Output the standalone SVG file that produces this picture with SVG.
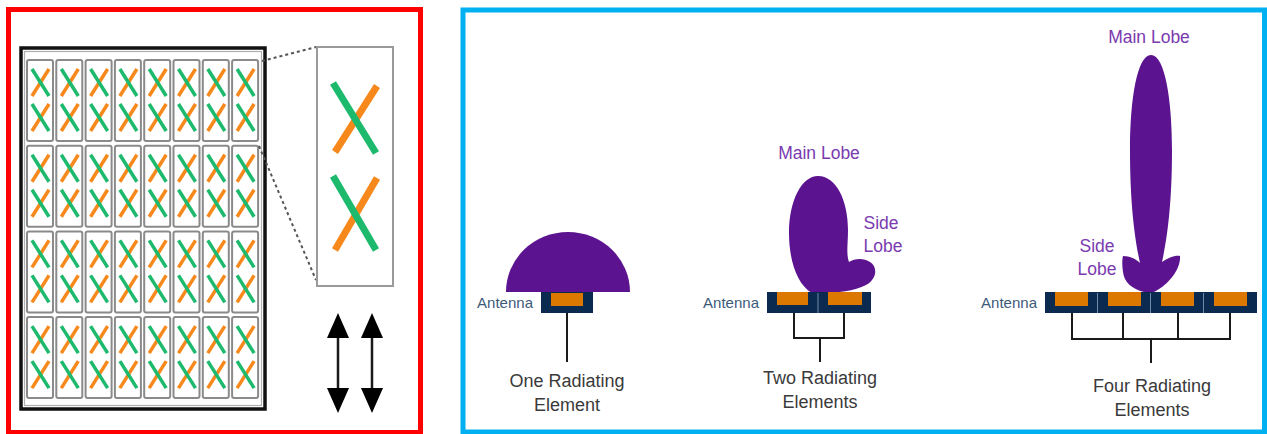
<svg xmlns="http://www.w3.org/2000/svg" xmlns:xlink="http://www.w3.org/1999/xlink" width="1267" height="434" viewBox="0 0 1267 434">
  <style>
    .frame-red { fill: none; stroke: #ff0000; stroke-width: 5; }
    .frame-blue { fill: none; stroke: #00b0f0; stroke-width: 5; }
    .tile { fill: #ffffff; stroke: #8a8a8a; stroke-width: 2; }
    .grn { stroke: #1dba6e; stroke-width: 3.5; }
    .org { stroke: #f7891c; stroke-width: 3.5; }
    .grn-big { stroke: #1dba6e; stroke-width: 7; }
    .org-big { stroke: #f7891c; stroke-width: 7; }
    .dots { stroke: #555555; stroke-width: 2; stroke-dasharray: 3 3; fill: none; }
    .shaft { stroke: #1a1a1a; stroke-width: 2.5; }
    .tip { fill: #000000; }
    .lobe { fill: #5c1390; }
    .base { fill: #0b2a4f; }
    .patch { fill: #dc7800; }
    .seam { stroke: #6f8aa6; stroke-width: 1; }
    .feed { fill: none; stroke: #1a1a1a; stroke-width: 2; }
    .lbl { font-family: "Liberation Sans", Arial, sans-serif; font-size: 18px; fill: #3a3a3a; text-anchor: middle; }
    .ant { font-family: "Liberation Sans", Arial, sans-serif; font-size: 15px; fill: #3d5a7a; text-anchor: end; }
    .lobe-lbl { font-family: "Liberation Sans", Arial, sans-serif; font-size: 17.5px; fill: #7a3ab0; text-anchor: middle; }
  </style>
  <defs>
    <!-- one dual-polarised element: card with two crossed dipoles -->
    <g id="tile">
      <rect class="tile" x="0" y="0" width="26" height="81" rx="2"/>
      <line class="org" x1="22" y1="9" x2="5" y2="36"/>
      <line class="grn" x1="5" y1="9" x2="22" y2="36"/>
      <line class="org" x1="22" y1="44" x2="5" y2="71"/>
      <line class="grn" x1="5" y1="44" x2="22" y2="71"/>
    </g>
    <!-- double-headed vertical arrow centred on x=0 -->
    <g id="dbl-arrow">
      <line class="shaft" x1="0" y1="335" x2="0" y2="391"/>
      <path class="tip" d="M0,313 L11,338 L-11,338 Z"/>
      <path class="tip" d="M0,413 L11,388 L-11,388 Z"/>
    </g>
  </defs>

  <rect width="1267" height="434" fill="#ffffff"/>

  <!-- left panel: antenna array -->
  <g id="array-panel">
    <rect class="frame-red" x="8.5" y="9.5" width="412" height="423"/>
    <g id="array">
      <rect x="21" y="48" width="244" height="361" fill="#ffffff" stroke="#111111" stroke-width="3.5"/>
      <rect x="24.5" y="51.5" width="237" height="354" fill="none" stroke="#b0b0b0" stroke-width="1.2"/>
      <use xlink:href="#tile" x="27" y="60"/><use xlink:href="#tile" x="56.3" y="60"/><use xlink:href="#tile" x="85.6" y="60"/><use xlink:href="#tile" x="114.9" y="60"/>
      <use xlink:href="#tile" x="144.2" y="60"/><use xlink:href="#tile" x="173.5" y="60"/><use xlink:href="#tile" x="202.8" y="60"/><use xlink:href="#tile" x="232.1" y="60"/>
      <use xlink:href="#tile" x="27" y="145.7"/><use xlink:href="#tile" x="56.3" y="145.7"/><use xlink:href="#tile" x="85.6" y="145.7"/><use xlink:href="#tile" x="114.9" y="145.7"/>
      <use xlink:href="#tile" x="144.2" y="145.7"/><use xlink:href="#tile" x="173.5" y="145.7"/><use xlink:href="#tile" x="202.8" y="145.7"/><use xlink:href="#tile" x="232.1" y="145.7"/>
      <use xlink:href="#tile" x="27" y="231.4"/><use xlink:href="#tile" x="56.3" y="231.4"/><use xlink:href="#tile" x="85.6" y="231.4"/><use xlink:href="#tile" x="114.9" y="231.4"/>
      <use xlink:href="#tile" x="144.2" y="231.4"/><use xlink:href="#tile" x="173.5" y="231.4"/><use xlink:href="#tile" x="202.8" y="231.4"/><use xlink:href="#tile" x="232.1" y="231.4"/>
      <use xlink:href="#tile" x="27" y="317.1"/><use xlink:href="#tile" x="56.3" y="317.1"/><use xlink:href="#tile" x="85.6" y="317.1"/><use xlink:href="#tile" x="114.9" y="317.1"/>
      <use xlink:href="#tile" x="144.2" y="317.1"/><use xlink:href="#tile" x="173.5" y="317.1"/><use xlink:href="#tile" x="202.8" y="317.1"/><use xlink:href="#tile" x="232.1" y="317.1"/>
    </g>
    <g id="detail-lines">
      <line class="dots" x1="262" y1="61" x2="316" y2="47"/>
      <line class="dots" x1="259" y1="146" x2="316" y2="280"/>
    </g>
    <g id="element-detail">
      <rect x="317" y="47" width="76" height="239" fill="#ffffff" stroke="#9a9a9a" stroke-width="2"/>
      <line class="org-big" x1="377" y1="86" x2="335" y2="152"/>
      <line class="grn-big" x1="333" y1="83" x2="376" y2="153"/>
      <line class="org-big" x1="377" y1="178" x2="335" y2="250"/>
      <line class="grn-big" x1="333" y1="176" x2="376" y2="250"/>
    </g>
    <g id="polarisation-arrows">
      <use xlink:href="#dbl-arrow" x="338" y="0"/>
      <use xlink:href="#dbl-arrow" x="372" y="0"/>
    </g>
  </g>

  <!-- right panel: beam forming with 1, 2 and 4 radiating elements -->
  <g id="beam-panel">
    <rect class="frame-blue" x="463" y="10" width="801.5" height="422"/>

    <g id="one-element">
      <path class="lobe" d="M506,292 A62,60 0 0 1 630,292 Z"/>
      <rect class="base" x="541" y="292" width="52" height="21"/>
      <rect class="patch" x="551" y="293" width="32" height="13"/>
      <text class="ant" x="533" y="308">Antenna</text>
      <line class="feed" x1="567" y1="313" x2="567" y2="362"/>
      <text class="lbl" x="567" y="387">One Radiating</text>
      <text class="lbl" x="567" y="411">Element</text>
    </g>

    <g id="two-elements">
      <text class="lobe-lbl" x="819" y="159">Main Lobe</text>
      <text class="lobe-lbl" x="881" y="229">Side</text>
      <text class="lobe-lbl" x="883" y="252">Lobe</text>
      <path class="lobe" d="M812,293 C796,284 789,258 789,233 C789,200 802,176 818,176 C836,176 848,200 848,230 C848,244 846,254 849,262 C855,258 864,258 870,262 C878,267 877,279 866,285 C855,291 836,293 823,293 Z"/>
      <rect class="base" x="767" y="292" width="104" height="21"/>
      <rect class="patch" x="777" y="292" width="31" height="13"/>
      <rect class="patch" x="828" y="292" width="34" height="13"/>
      <line class="seam" x1="818" y1="293" x2="818" y2="313"/>
      <text class="ant" x="759" y="308">Antenna</text>
      <path class="feed" d="M794,313 V338 H844 V313 M820,338 V362"/>
      <text class="lbl" x="820" y="384">Two Radiating</text>
      <text class="lbl" x="820" y="408">Elements</text>
    </g>

    <g id="four-elements">
      <text class="lobe-lbl" x="1149" y="43">Main Lobe</text>
      <text class="lobe-lbl" x="1097" y="252">Side</text>
      <text class="lobe-lbl" x="1097" y="275">Lobe</text>
      <path class="lobe" d="M1151,55 C1165,55 1172,100 1172,150 C1172,200 1168,235 1162,262 C1168,258 1175,255 1180,256 C1181,268 1170,284 1154,292 L1144,292 C1132,289 1124,282 1123,272 C1122,266 1122,260 1123,256 C1130,256 1136,259 1140,263 C1134,235 1130,200 1130,150 C1130,100 1137,55 1151,55 Z"/>
      <rect class="base" x="1045" y="292" width="212" height="21"/>
      <rect class="patch" x="1055" y="292" width="33" height="14"/>
      <rect class="patch" x="1108" y="292" width="33" height="14"/>
      <rect class="patch" x="1161" y="292" width="33" height="14"/>
      <rect class="patch" x="1214" y="292" width="33" height="14"/>
      <line class="seam" x1="1097.5" y1="293" x2="1097.5" y2="313"/>
      <line class="seam" x1="1150.5" y1="293" x2="1150.5" y2="313"/>
      <line class="seam" x1="1203.5" y1="293" x2="1203.5" y2="313"/>
      <text class="ant" x="1037" y="308">Antenna</text>
      <path class="feed" d="M1072,313 V339 H1230 V313 M1123,313 V339 M1178,313 V339 M1151,339 V363"/>
      <text class="lbl" x="1152" y="392">Four Radiating</text>
      <text class="lbl" x="1152" y="416">Elements</text>
    </g>
  </g>
</svg>
